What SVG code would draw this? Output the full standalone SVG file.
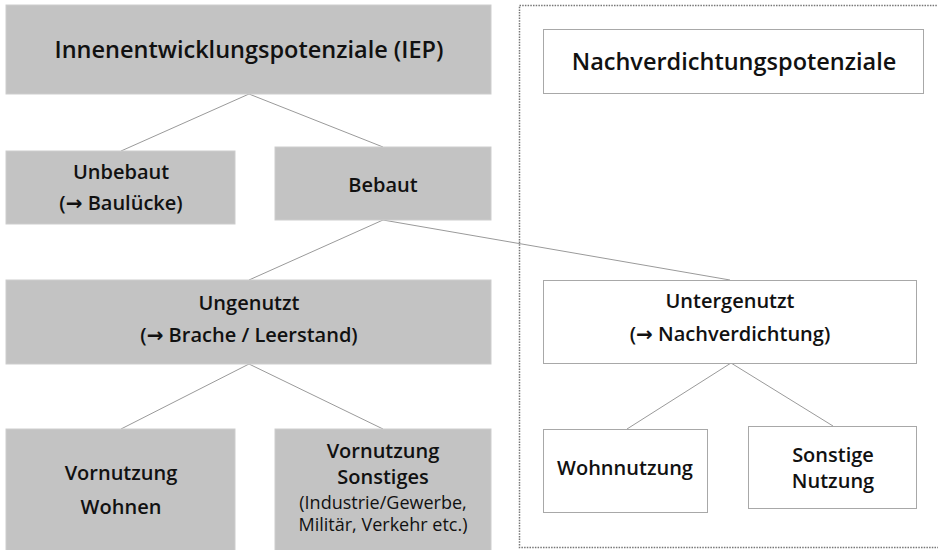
<svg xmlns="http://www.w3.org/2000/svg" width="938" height="550" viewBox="0 0 938 550">
<style>
.g{fill:#c3c3c3;stroke:#cdcdcd;stroke-width:1}
.w{fill:#fff;stroke:#a8a8a8;stroke-width:1}
text{font-family:"Open Sans","Liberation Sans",sans-serif;font-weight:600;fill:#111;text-anchor:middle}
.t1{font-size:23.5px}
.t2{font-size:20px}
.t3{font-size:18px;font-weight:400}
.ar{font-family:"DejaVu Sans",sans-serif;font-weight:700}
.c line{stroke:#9a9a9a;stroke-width:1}
</style>
<rect x="519.5" y="5.5" width="430" height="542" fill="none" stroke="#777" stroke-width="1.5" stroke-dasharray="1.5 1.2"/>
<g class="c">
<line x1="249" y1="94" x2="121" y2="151"/>
<line x1="249" y1="94" x2="383" y2="147"/>
<line x1="383" y1="220" x2="249" y2="280"/>
<line x1="383" y1="220" x2="730" y2="280"/>
<line x1="249" y1="364" x2="121" y2="429"/>
<line x1="249" y1="364" x2="383" y2="429"/>
<line x1="731" y1="363" x2="627" y2="429"/>
<line x1="731" y1="363" x2="833" y2="426"/>
</g>
<g id="iep"><rect class="g" x="6" y="5" width="485" height="89"/><text class="t1" x="249" y="58">Innenentwicklungspotenziale (IEP)</text></g>
<g id="nvp"><rect class="w" x="543.5" y="29.5" width="380" height="64"/><text class="t1" x="734" y="70">Nachverdichtungspotenziale</text></g>
<g id="unbebaut"><rect class="g" x="6" y="151" width="229" height="73"/><text class="t2" x="121" y="179">Unbebaut</text><text class="t2" x="121" y="210">(<tspan class="ar">→</tspan> Baulücke)</text></g>
<g id="bebaut"><rect class="g" x="275" y="147" width="216" height="73"/><text class="t2" x="383" y="192">Bebaut</text></g>
<g id="ungenutzt"><rect class="g" x="6" y="280" width="485" height="84"/><text class="t2" x="249" y="310">Ungenutzt</text><text class="t2" x="249" y="342">(<tspan class="ar">→</tspan> Brache / Leerstand)</text></g>
<g id="untergenutzt"><rect class="w" x="543.5" y="280.5" width="373" height="83"/><text class="t2" x="730" y="308">Untergenutzt</text><text class="t2" x="730" y="341">(<tspan class="ar">→</tspan> Nachverdichtung)</text></g>
<g id="vwohnen"><rect class="g" x="6" y="429" width="229" height="130"/><text class="t2" x="121" y="480">Vornutzung</text><text class="t2" x="121" y="514">Wohnen</text></g>
<g id="vsonstiges"><rect class="g" x="275" y="429" width="216" height="130"/><text class="t2" x="383" y="458">Vornutzung</text><text class="t2" x="383" y="484">Sonstiges</text><text class="t3" x="383" y="509">(Industrie/Gewerbe,</text><text class="t3" x="383" y="531">Militär, Verkehr etc.)</text></g>
<g id="wohnnutzung"><rect class="w" x="543.5" y="429.5" width="164" height="83"/><text class="t2" x="625" y="475">Wohnnutzung</text></g>
<g id="sonstigenutzung"><rect class="w" x="748.5" y="426.5" width="168" height="82"/><text class="t2" x="833" y="462">Sonstige</text><text class="t2" x="833" y="488">Nutzung</text></g>
</svg>
